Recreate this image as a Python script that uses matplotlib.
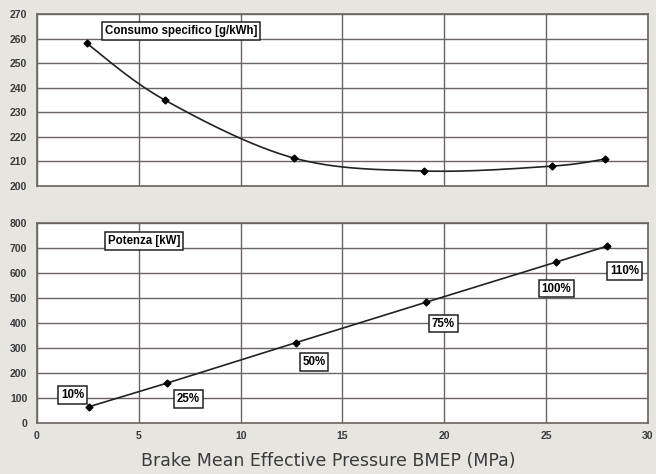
import numpy as np
import matplotlib
matplotlib.use("Agg")
import matplotlib.pyplot as plt

# data
bmep_sfc = [2.45, 6.27, 12.6, 19.0, 25.3, 27.9]
sfc = [258, 235, 211.4, 206.1, 208.1, 211]

bmep_pow = [2.55, 6.4, 12.7, 19.1, 25.5, 28.0]
power = [65, 160, 321, 483, 644, 708]
load_labels = ["10%", "25%", "50%", "75%", "100%", "110%"]
load_label_pos = [(1.74, 112), (7.43, 96), (13.6, 244), (19.95, 398), (25.5, 538), (28.85, 608)]

BG = "#e6e5e0"
GRID = "#6b6461"
TICK = "#3a3a3a"


def smooth(xs, ys, n=30):
    # Excel-like smoothed line (Catmull-Rom through the points)
    p = np.column_stack([xs, ys]).astype(float)
    p = np.vstack([p[0], p, p[-1]])
    out = []
    t = np.linspace(0, 1, n)[:, None]
    for i in range(1, len(p) - 2):
        p0, p1, p2, p3 = p[i - 1], p[i], p[i + 1], p[i + 2]
        c = 0.5 * ((2 * p1) + (-p0 + p2) * t + (2 * p0 - 5 * p1 + 4 * p2 - p3) * t**2
                   + (-p0 + 3 * p1 - 3 * p2 + p3) * t**3)
        out.append(c)
    out = np.vstack(out)
    return out[:, 0], out[:, 1]


def style(ax):
    ax.set_facecolor("white")
    ax.set_xlim(0, 30)
    ax.set_xticks(range(0, 31, 5))
    ax.grid(True, color=GRID, lw=1.0)
    ax.set_axisbelow(True)
    for s in ax.spines.values():
        s.set_color(GRID)
        s.set_linewidth(1.2)
    ax.tick_params(axis="y", length=0, pad=7, labelsize=7.5, labelcolor=TICK)
    ax.tick_params(axis="x", length=0, pad=6, labelsize=7.5, labelcolor=TICK)
    for lab in ax.get_yticklabels() + ax.get_xticklabels():
        lab.set_fontweight("bold")
        lab.set_fontfamily("Liberation Sans")


box = dict(boxstyle="square,pad=0.25", fc="white", ec="#222222", lw=1.1)

fig = plt.figure(figsize=(6.56, 4.74), dpi=100, facecolor=BG)

ax1 = fig.add_axes([0.0564, 0.6076, 0.9314, 0.3629])
ax1.set_ylim(200, 270)
ax1.set_yticks(range(200, 271, 10))
sx, sy = smooth(bmep_sfc, sfc)
ax1.plot(sx, sy, color="#222222", lw=1.2)
ax1.plot(bmep_sfc, sfc, "D", color="black", ms=3.5)
style(ax1)
ax1.set_xticklabels([])
ax1.text(7.06, 263, "Consumo specifico [g/kWh]", ha="center", va="center",
         fontsize=8.3, fontweight="bold", family="Liberation Sans", bbox=box)

ax2 = fig.add_axes([0.0564, 0.1076, 0.9314, 0.4219])
ax2.set_ylim(0, 800)
ax2.set_yticks(range(0, 801, 100))
ax2.plot(bmep_pow, power, color="#222222", lw=1.2)
ax2.plot(bmep_pow, power, "D", color="black", ms=3.5)
style(ax2)
ax2.text(5.25, 728, "Potenza [kW]", ha="center", va="center",
         fontsize=8.3, fontweight="bold", family="Liberation Sans", bbox=box)
for lab, (lx, ly) in zip(load_labels, load_label_pos):
    ax2.text(lx, ly, lab, ha="center", va="center", fontsize=8.3,
             fontweight="bold", family="Liberation Sans", bbox=box)

fig.text(0.5, 0.028, "Brake Mean Effective Pressure BMEP (MPa)", ha="center",
         va="center", fontsize=12.5, color="#3a3a3a", family="DejaVu Sans")

fig.savefig("out.png", dpi=100, facecolor=BG)
